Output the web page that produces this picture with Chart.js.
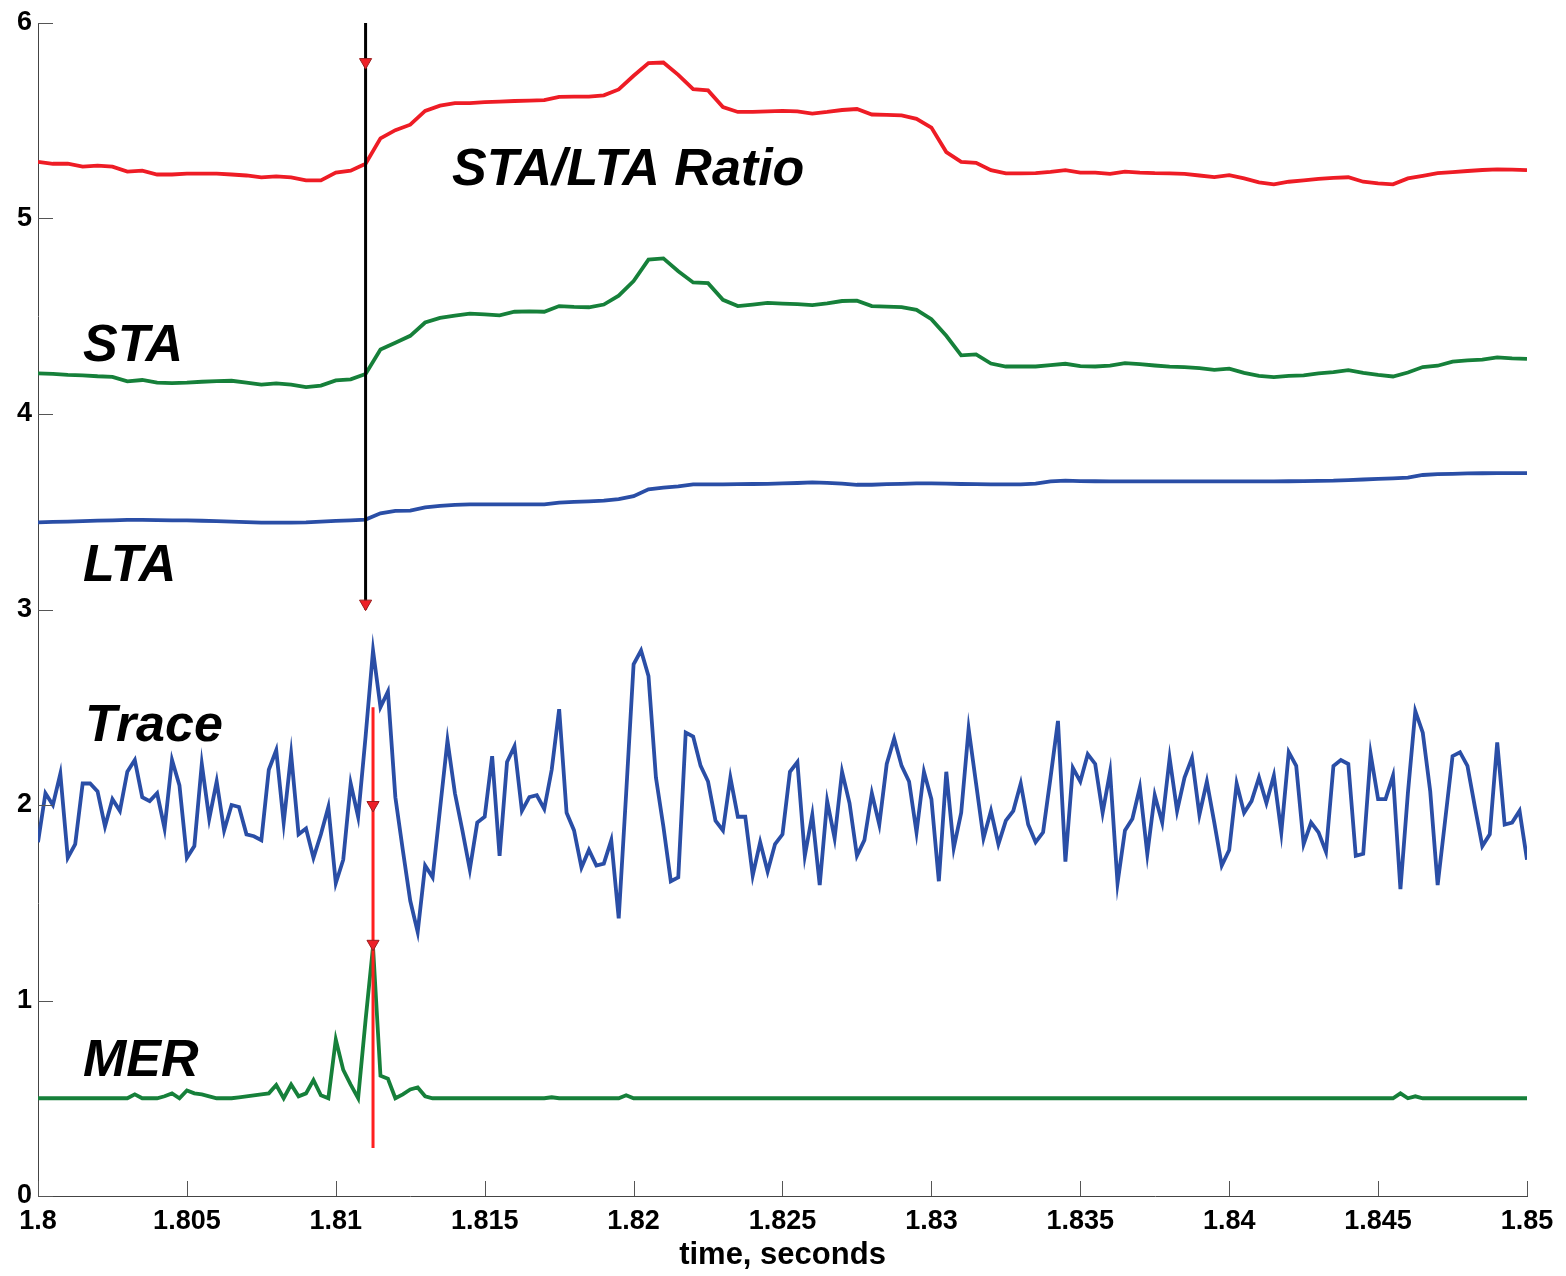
<!DOCTYPE html>
<html>
<head>
<meta charset="utf-8">
<script src="https://cdn.jsdelivr.net/npm/chart.js@4.4.1/dist/chart.umd.min.js"></script>
<style>
  body { margin: 0; background: #fff; }
  canvas { display: block; }
</style>
</head>
<body>
<canvas id="picker" width="1566" height="1276"></canvas>
<script>
// sampling of the recorded trace / MER (4 kHz), smooth curves read every 0.5 ms
const SAMPLE_START = 1.8;
const SAMPLE_DT = 0.00025;
const SMOOTH_DT = 0.0005;

const xTicks = [1.8, 1.805, 1.81, 1.815, 1.82, 1.825, 1.83, 1.835, 1.84, 1.845, 1.85];
const yTicks = [0, 1, 2, 3, 4, 5, 6];

const ratio = [
  5.29, 5.28, 5.28, 5.265, 5.27, 5.265, 5.24, 5.245, 5.225, 5.225,
  5.23, 5.23, 5.23, 5.225, 5.22, 5.21, 5.215, 5.21, 5.195, 5.195,
  5.235, 5.245, 5.28, 5.41, 5.452, 5.48, 5.55, 5.577, 5.59, 5.59,
  5.595, 5.598, 5.601, 5.603, 5.605, 5.622, 5.623, 5.623, 5.63, 5.66,
  5.73, 5.795, 5.798, 5.735, 5.662, 5.655, 5.57, 5.545, 5.545, 5.548,
  5.55, 5.548, 5.537, 5.545, 5.555, 5.56, 5.532, 5.53, 5.527, 5.51,
  5.465, 5.34, 5.29, 5.285, 5.247, 5.231, 5.231, 5.232, 5.238, 5.247,
  5.235, 5.235, 5.228, 5.24, 5.235, 5.232, 5.231, 5.228, 5.22, 5.212,
  5.222, 5.205, 5.185, 5.175, 5.188, 5.195, 5.203, 5.208, 5.211, 5.188,
  5.18, 5.175, 5.205, 5.218, 5.232, 5.237, 5.243, 5.248, 5.251, 5.25,
  5.247
];

const sta = [
  4.208, 4.205, 4.2, 4.198, 4.193, 4.19, 4.167, 4.174, 4.16, 4.158,
  4.16, 4.165, 4.168, 4.17, 4.16, 4.15, 4.157, 4.15, 4.138, 4.145,
  4.172, 4.177, 4.205, 4.33, 4.364, 4.4, 4.468, 4.492, 4.503, 4.513,
  4.51, 4.505, 4.523, 4.525, 4.523, 4.552, 4.548, 4.546, 4.56, 4.605,
  4.68, 4.79, 4.796, 4.73, 4.673, 4.669, 4.584, 4.552, 4.56, 4.568,
  4.565, 4.562, 4.557, 4.566, 4.578, 4.58, 4.552, 4.549, 4.547, 4.533,
  4.485, 4.4, 4.3, 4.305, 4.258, 4.243, 4.243, 4.243, 4.25, 4.257,
  4.245, 4.243, 4.247, 4.26, 4.255, 4.248, 4.242, 4.24, 4.235, 4.226,
  4.232, 4.21, 4.195, 4.189, 4.195, 4.198, 4.208, 4.214, 4.224, 4.21,
  4.2, 4.192, 4.212, 4.24, 4.247, 4.268, 4.274, 4.278, 4.29, 4.285,
  4.282
];

const lta = [
  3.446, 3.448, 3.45, 3.452, 3.455, 3.456, 3.458, 3.458, 3.457, 3.456,
  3.456, 3.454, 3.452, 3.45, 3.447, 3.444, 3.444, 3.444, 3.446, 3.45,
  3.453, 3.456, 3.46, 3.492, 3.504, 3.506, 3.522, 3.53, 3.535, 3.538,
  3.538, 3.538, 3.538, 3.538, 3.538, 3.547, 3.55, 3.553, 3.557, 3.565,
  3.58, 3.615, 3.623, 3.63, 3.64, 3.64, 3.64, 3.641, 3.642, 3.643,
  3.645, 3.647, 3.65, 3.648, 3.644, 3.638, 3.638, 3.641, 3.643, 3.645,
  3.645, 3.644, 3.642, 3.641, 3.64, 3.64, 3.64, 3.644, 3.655, 3.659,
  3.657, 3.656, 3.655, 3.655, 3.655, 3.655, 3.655, 3.655, 3.655, 3.655,
  3.655, 3.655, 3.655, 3.655, 3.656, 3.657, 3.658, 3.659, 3.662, 3.665,
  3.668, 3.671, 3.675, 3.688, 3.692, 3.694, 3.696, 3.697, 3.698, 3.698,
  3.698
];

const trace = [
  1.81, 2.06, 2.00, 2.16, 1.73, 1.80, 2.11, 2.11, 2.07, 1.89,
  2.03, 1.97, 2.17, 2.23, 2.04, 2.02, 2.06, 1.88, 2.23, 2.10,
  1.73, 1.79, 2.21, 1.93, 2.12, 1.87, 2.00, 1.99, 1.85, 1.84,
  1.82, 2.18, 2.28, 1.91, 2.26, 1.85, 1.88, 1.73, 1.85, 1.99,
  1.60, 1.72, 2.11, 1.94, 2.35, 2.79, 2.50, 2.58, 2.04, 1.77,
  1.51, 1.35, 1.69, 1.63, 1.98, 2.33, 2.06, 1.87, 1.67, 1.91,
  1.94, 2.25, 1.74, 2.22, 2.30, 1.97, 2.04, 2.05, 1.98, 2.18,
  2.49, 1.96, 1.87, 1.68, 1.77, 1.69, 1.70, 1.82, 1.42, 2.06,
  2.72, 2.79, 2.66, 2.14, 1.89, 1.61, 1.63, 2.37, 2.35, 2.20,
  2.12, 1.92, 1.87, 2.14, 1.94, 1.94, 1.64, 1.81, 1.66, 1.80,
  1.85, 2.17, 2.22, 1.74, 1.95, 1.59, 2.02, 1.83, 2.17, 2.01,
  1.74, 1.82, 2.06, 1.90, 2.21, 2.34, 2.20, 2.12, 1.86, 2.17,
  2.03, 1.61, 2.17, 1.78, 1.96, 2.39, 2.11, 1.83, 1.97, 1.80,
  1.92, 1.97, 2.11, 1.90, 1.81, 1.86, 2.14, 2.43, 1.71, 2.19,
  2.12, 2.26, 2.21, 1.96, 2.17, 1.60, 1.87, 1.93, 2.09, 1.75,
  2.05, 1.91, 2.24, 1.97, 2.14, 2.24, 1.95, 2.12, 1.91, 1.69,
  1.77, 2.11, 1.96, 2.02, 2.14, 2.01, 2.15, 1.86, 2.27, 2.20,
  1.80, 1.91, 1.86, 1.76, 2.20, 2.23, 2.21, 1.74, 1.75, 2.26,
  2.03, 2.03, 2.15, 1.57, 2.06, 2.48, 2.37, 2.07, 1.59, 1.92,
  2.25, 2.27, 2.20, 1.99, 1.79, 1.85, 2.32, 1.90, 1.91, 1.97,
  1.72
];

const mer = [
  .5, .5, .5, .5, .5, .5, .5, .5, .5, .5,
  .5, .5, .5, .52, .5, .5, .5, .51, .525, .5,
  .54, .525, .52, .51, .5, .5, .5, .505, .51, .515,
  .52, .525, .568, .5, .57, .51, .525, .593, .515, .5,
  .8, .645, .57, .5, .9, 1.275, .615, .6, .5, .52,
  .545, .555, .51, .5, .5, .5, .5, .5, .5, .5,
  .5, .5, .5, .5, .5, .5, .5, .5, .5, .505,
  .5, .5, .5, .5, .5, .5, .5, .5, .5, .515,
  .5, .5, .5, .5, .5, .5, .5, .5, .5, .5,
  .5, .5, .5, .5, .5, .5, .5, .5, .5, .5,
  .5, .5, .5, .5, .5, .5, .5, .5, .5, .5,
  .5, .5, .5, .5, .5, .5, .5, .5, .5, .5,
  .5, .5, .5, .5, .5, .5, .5, .5, .5, .5,
  .5, .5, .5, .5, .5, .5, .5, .5, .5, .5,
  .5, .5, .5, .5, .5, .5, .5, .5, .5, .5,
  .5, .5, .5, .5, .5, .5, .5, .5, .5, .5,
  .5, .5, .5, .5, .5, .5, .5, .5, .5, .5,
  .5, .5, .5, .5, .5, .5, .5, .5, .5, .5,
  .5, .5, .5, .525, .5, .51, .5, .5, .5, .5,
  .5, .5, .5, .5, .5, .5, .5, .5, .5, .5,
  .5
];

// picks: STA/LTA trigger (black) and MER onset (red)
const staltaPick = { t: 1.8110, from: 6, to: 3, marks: [5.8, 3.03] };
const merPick = { t: 1.81125, from: 2.5, to: 0.245, marks: [2.0, 1.29] };

const labels = [
  { text: 'STA/LTA Ratio', t: 1.8139, v: 5.17 },
  { text: 'STA', t: 1.80151, v: 4.27 },
  { text: 'LTA', t: 1.80151, v: 3.145 },
  { text: 'Trace', t: 1.80158, v: 2.325 },
  { text: 'MER', t: 1.80151, v: 0.615 }
];

function toPoints(values, dt) {
  return values.map((v, i) => ({ x: SAMPLE_START + i * dt, y: v }));
}

function pickLine(p) {
  return [{ x: p.t, y: p.from }, { x: p.t, y: p.to }];
}

function pickMarks(p) {
  return p.marks.map(v => ({ x: p.t, y: v }));
}

const lineStyle = { pointRadius: 0, borderWidth: 3.8, tension: 0, fill: false, order: 3 };
const markStyle = {
  showLine: false, pointStyle: 'triangle', pointRotation: 180, pointRadius: 7,
  pointBackgroundColor: '#ee2027', pointBorderColor: '#9a1d1d', pointBorderWidth: 1, order: 0
};

const insideTicks = {
  id: 'insideTicks',
  afterDraw(chart) {
    const { ctx, chartArea, scales } = chart;
    ctx.save();
    ctx.strokeStyle = '#555';
    ctx.lineWidth = 1;
    ctx.beginPath();
    yTicks.forEach(v => {
      const y = Math.round(scales.y.getPixelForValue(v)) + 0.5;
      ctx.moveTo(chartArea.left, y);
      ctx.lineTo(chartArea.left + 15, y);
    });
    xTicks.forEach(v => {
      const x = Math.round(scales.x.getPixelForValue(v)) + 0.5;
      ctx.moveTo(x, chartArea.bottom);
      ctx.lineTo(x, chartArea.bottom - 15);
    });
    ctx.stroke();
    ctx.restore();
  }
};

const traceLabels = {
  id: 'traceLabels',
  afterDatasetsDraw(chart) {
    const { ctx, scales } = chart;
    ctx.save();
    ctx.fillStyle = '#000';
    ctx.font = 'italic bold 52px "Liberation Sans", Arial, sans-serif';
    ctx.textAlign = 'left';
    ctx.textBaseline = 'alphabetic';
    labels.forEach(l => {
      ctx.fillText(l.text, scales.x.getPixelForValue(l.t), scales.y.getPixelForValue(l.v));
    });
    ctx.restore();
  }
};

const arial = '"Liberation Sans", Arial, sans-serif';

new Chart(document.getElementById('picker').getContext('2d'), {
  type: 'line',
  data: {
    datasets: [
      { ...markStyle, data: pickMarks(staltaPick) },
      { ...markStyle, data: pickMarks(merPick) },
      { ...lineStyle, data: pickLine(staltaPick), borderColor: '#000', borderWidth: 3, order: 1 },
      { ...lineStyle, data: pickLine(merPick), borderColor: '#ff1f1f', borderWidth: 3, order: 1 },
      { ...lineStyle, data: toPoints(ratio, SMOOTH_DT), borderColor: '#ee1c25' },
      { ...lineStyle, data: toPoints(sta, SMOOTH_DT), borderColor: '#16803a' },
      { ...lineStyle, data: toPoints(lta, SMOOTH_DT), borderColor: '#2a4ea6' },
      { ...lineStyle, data: toPoints(trace, SAMPLE_DT), borderColor: '#2a4ea6' },
      { ...lineStyle, data: toPoints(mer, SAMPLE_DT), borderColor: '#16803a' }
    ]
  },
  options: {
    responsive: false,
    animation: false,
    devicePixelRatio: 1,
    layout: { padding: { top: 23, right: 39, bottom: 0, left: 0 } },
    scales: {
      x: {
        type: 'linear',
        min: 1.8,
        max: 1.85,
        afterBuildTicks: axis => { axis.ticks = xTicks.map(v => ({ value: v })); },
        afterFit: axis => { axis.height = 80; },
        grid: { drawOnChartArea: false, drawTicks: false },
        border: { display: true, color: '#444', width: 1 },
        ticks: {
          padding: 9,
          maxRotation: 0,
          autoSkip: false,
          color: '#000',
          font: { family: arial, size: 27, weight: 'bold' },
          callback: v => String(Number(v.toFixed(3)))
        },
        title: {
          display: true,
          text: 'time, seconds',
          color: '#000',
          padding: { top: 0, bottom: 2 },
          font: { family: arial, size: 31, weight: 'bold' }
        }
      },
      y: {
        min: 0,
        max: 6,
        afterBuildTicks: axis => { axis.ticks = yTicks.map(v => ({ value: v })); },
        afterFit: axis => { axis.width = 38; },
        grid: { drawOnChartArea: false, drawTicks: false },
        border: { display: true, color: '#444', width: 1 },
        ticks: {
          padding: 6,
          color: '#000',
          font: { family: arial, size: 27, weight: 'bold' }
        }
      }
    },
    plugins: {
      legend: { display: false },
      tooltip: { enabled: false }
    }
  },
  plugins: [insideTicks, traceLabels]
});
</script>
</body>
</html>
